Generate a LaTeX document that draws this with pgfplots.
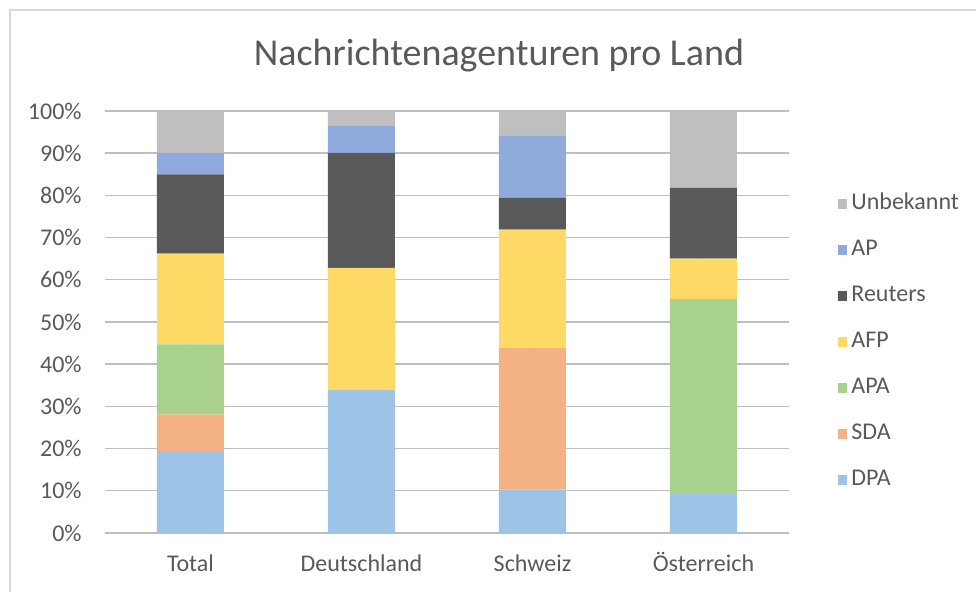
\documentclass[border=0pt]{standalone}
\usepackage{pgfplots}
\pgfplotsset{compat=1.18}
\usepackage{fontspec}
\setmainfont{Carlito}
\definecolor{cDPA}{HTML}{9DC3E6}
\definecolor{cSDA}{HTML}{F4B183}
\definecolor{cAPA}{HTML}{A9D18E}
\definecolor{cAFP}{HTML}{FFD966}
\definecolor{cReu}{HTML}{595959}
\definecolor{cAP}{HTML}{8FAADC}
\definecolor{cUnb}{HTML}{BFBFBF}
\definecolor{txt}{HTML}{595959}
\definecolor{grid}{HTML}{D9D9D9}
\begin{document}
\begin{tikzpicture}
\useasboundingbox (-52.5pt,-29.5pt) rectangle (435.5pt,266.5pt);
\draw[grid, line width=1pt] (-47.5pt,-29.5pt) -- (-47.5pt,261.5pt) -- (435.5pt,261.5pt);
\begin{axis}[
  at={(0,0)}, anchor=south west,
  scale only axis, width=342pt, height=211pt,
  ybar stacked, bar width=33.5pt,
  xmin=-0.5, xmax=3.5, ymin=0, ymax=100,
  xtick={0,1,2,3},
  xticklabels={Total,Deutschland,Schweiz,Österreich},
  ytick={0,10,...,100},
  yticklabel={\pgfmathprintnumber{\tick}\%},
  /pgf/number format/assume math mode=true,
  ymajorgrids, grid style={grid, line width=0.7pt},
  axis line style={draw=none},
  major tick length=0pt,
  tick style={draw=none},
  ticklabel style={font=\fontsize{12}{14}\selectfont, text=txt},
  yticklabel style={anchor=east, inner sep=0pt, xshift=-11.5pt},
  xticklabel style={anchor=base, inner sep=0pt, yshift=-19.5pt},
  title={Nachrichtenagenturen pro Land},
  title style={at={(rel axis cs:0.576,1.104)}, anchor=center, font=\fontsize{19}{21}\selectfont, text=txt},
  every axis plot/.append style={draw=none},
  reverse legend,
  legend cell align=left,
  legend style={at={(rel axis cs:1.062,0.453)}, anchor=west, draw=none, fill=none,
    font=\fontsize{12}{14}\selectfont, text=txt,
    row sep=12pt,
    nodes={text height=8.5pt, text depth=2.5pt, inner sep=0pt, inner xsep=2pt}},
  legend image code/.code={\fill[#1] (0pt,-2.4pt) rectangle (4.8pt,2.4pt);},
]
\addplot[fill=cDPA] coordinates {(0,19.4) (1,34.0) (2,10.3) (3,9.5)};
\addplot[fill=cSDA] coordinates {(0,8.7) (1,0) (2,33.6) (3,0)};
\addplot[fill=cAPA] coordinates {(0,16.6) (1,0) (2,0) (3,46.0)};
\addplot[fill=cAFP] coordinates {(0,21.5) (1,28.8) (2,28.0) (3,9.5)};
\addplot[fill=cReu] coordinates {(0,18.8) (1,27.3) (2,7.5) (3,16.8)};
\addplot[fill=cAP] coordinates {(0,5.1) (1,6.3) (2,14.7) (3,0)};
\addplot[fill=cUnb] coordinates {(0,9.9) (1,3.6) (2,5.9) (3,18.2)};
\legend{DPA,SDA,APA,AFP,Reuters,AP,Unbekannt}
\end{axis}
\end{tikzpicture}
\end{document}
